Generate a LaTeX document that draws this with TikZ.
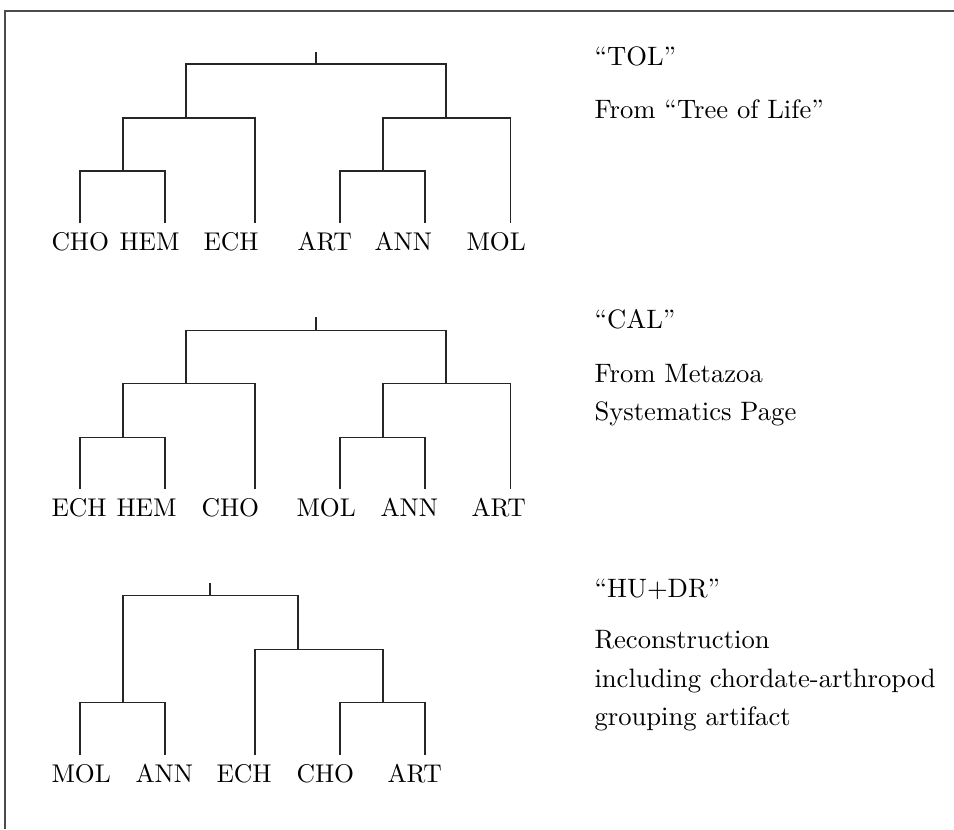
\documentclass[tikz,border=0pt]{standalone}
\usepackage{tikz}
\begin{document}
\begin{tikzpicture}[x=0.390625pt,y=-0.390625pt,
  branch/.style={draw=black!85,line width=0.4pt},
  frameline/.style={draw=black!70,line width=0.4pt},
  taxon/.style={anchor=base west,inner sep=0pt,font=\normalsize},
  caption/.style={anchor=base west,inner sep=0pt,font=\fontsize{10.4}{12.5}\selectfont}]
\useasboundingbox (0,0) rectangle (954,829);
% frame
\coordinate (fa) at (5,829);
\coordinate (fb) at (5,11);
\coordinate (fc) at (954,11);
\draw[frameline] (fa) -- (fb) -- (fc);

% ---------- Tree 1 (TOL) ----------
\coordinate (a0) at (316,52);
\coordinate (a1) at (316,64);
\coordinate (aL) at (186,118);
\coordinate (aR) at (446,118);
\coordinate (aLL) at (123,171);
\coordinate (aRL) at (383,171);
\coordinate (aCHO) at (80,223);
\coordinate (aHEM) at (165,223);
\coordinate (aECH) at (255,223);
\coordinate (aART) at (340,223);
\coordinate (aANN) at (425,223);
\coordinate (aMOL) at (510,223);
\draw[branch] (a0) -- (a1);
\draw[branch] (aL) |- (a1) -| (aR);
\draw[branch] (aLL) |- (aL) -| (aECH);
\draw[branch] (aRL) |- (aR) -| (aMOL);
\draw[branch] (aCHO) |- (aLL) -| (aHEM);
\draw[branch] (aART) |- (aRL) -| (aANN);
\node[taxon] (laCHO) at (51,250) {CHO};
\node[taxon] (laHEM) at (119,250) {HEM};
\node[taxon] (laECH) at (203,250) {ECH};
\node[taxon] (laART) at (297,250) {ART};
\node[taxon] (laANN) at (374,250) {ANN};
\node[taxon] (laMOL) at (466,250) {MOL};
\node[caption] (ta) at (594,65) {``TOL''};
\node[caption] (tb) at (594,118) {From ``Tree of Life''};

% ---------- Tree 2 (CAL) ----------
\coordinate (b0) at (316,317);
\coordinate (b1) at (316,330);
\coordinate (bL) at (186,383);
\coordinate (bR) at (446,383);
\coordinate (bLL) at (123,437);
\coordinate (bRL) at (383,437);
\coordinate (bECH) at (80,489);
\coordinate (bHEM) at (165,489);
\coordinate (bCHO) at (255,489);
\coordinate (bMOL) at (340,489);
\coordinate (bANN) at (425,489);
\coordinate (bART) at (510,489);
\draw[branch] (b0) -- (b1);
\draw[branch] (bL) |- (b1) -| (bR);
\draw[branch] (bLL) |- (bL) -| (bCHO);
\draw[branch] (bRL) |- (bR) -| (bART);
\draw[branch] (bECH) |- (bLL) -| (bHEM);
\draw[branch] (bMOL) |- (bRL) -| (bANN);
\node[taxon] (lbECH) at (51,516) {ECH};
\node[taxon] (lbHEM) at (116,516) {HEM};
\node[taxon] (lbCHO) at (201,516) {CHO};
\node[taxon] (lbMOL) at (296,516) {MOL};
\node[taxon] (lbANN) at (380,516) {ANN};
\node[taxon] (lbART) at (471,516) {ART};
\node[caption] (tc) at (594,328) {``CAL''};
\node[caption] (td) at (594,382) {From Metazoa};
\node[caption] (te) at (594,420) {Systematics Page};

% ---------- Tree 3 (HU+DR) ----------
\coordinate (c0) at (210,583);
\coordinate (c1) at (210,595);
\coordinate (cL) at (123,702);
\coordinate (cR) at (298,649);
\coordinate (cRR) at (383,702);
\coordinate (cMOL) at (80,755);
\coordinate (cANN) at (165,755);
\coordinate (cECH) at (255,755);
\coordinate (cCHO) at (340,755);
\coordinate (cART) at (425,755);
\draw[branch] (c0) -- (c1);
\draw[branch] (cL) |- (c1) -| (cR);
\draw[branch] (cMOL) |- (cL) -| (cANN);
\draw[branch] (cECH) |- (cR) -| (cRR);
\draw[branch] (cCHO) |- (cRR) -| (cART);
\node[taxon] (lcMOL) at (51,782) {MOL};
\node[taxon] (lcANN) at (135,782) {ANN};
\node[taxon] (lcECH) at (216,782) {ECH};
\node[taxon] (lcCHO) at (296,782) {CHO};
\node[taxon] (lcART) at (387,782) {ART};
\node[caption] (tf) at (594,597) {``HU+DR''};
\node[caption] (tg) at (594,648) {Reconstruction};
\node[caption] (th) at (594,687) {including chordate-arthropod};
\node[caption] (ti) at (594,725) {grouping artifact};
\end{tikzpicture}
\end{document}
